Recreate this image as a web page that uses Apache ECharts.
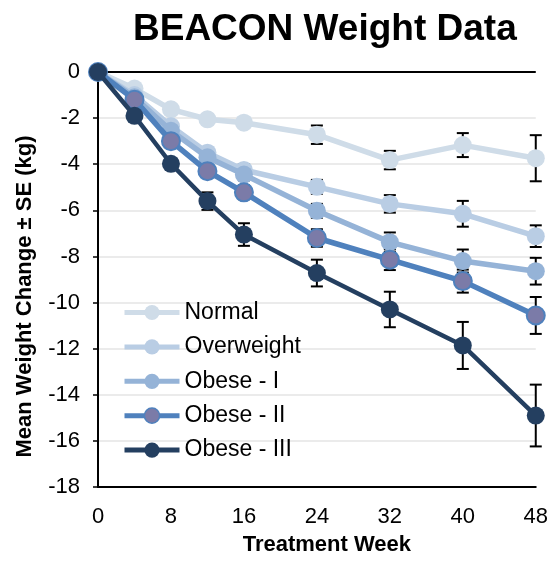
<!DOCTYPE html>
<html><head><meta charset="utf-8">
<script src="https://cdn.jsdelivr.net/npm/echarts@6/dist/echarts.min.js"></script>
<style>html,body{margin:0;padding:0;background:#fff}#c{width:551px;height:561px}</style>
</head><body><div id="c"></div>
<script>
var weeks = [0, 4, 8, 12, 16, 24, 32, 40, 48];
var xTicks = [0, 8, 16, 24, 32, 40, 48];
var yTicks = [0, -2, -4, -6, -8, -10, -12, -14, -16, -18];
var seriesNames = ['Normal', 'Overweight', 'Obese - I', 'Obese - II', 'Obese - III'];
var normal     = [0, -0.72, -1.62, -2.05, -2.20, -2.72, -3.82, -3.17, -3.74];
var overweight = [0, -1.00, -2.35, -3.50, -4.25, -4.98, -5.72, -6.15, -7.12];
var obese1     = [0, -1.10, -2.55, -3.70, -4.45, -6.02, -7.38, -8.20, -8.64];
var obese2     = [0, -1.20, -3.00, -4.30, -5.22, -7.20, -8.14, -9.07, -10.56];
var obese3     = [0, -1.90, -3.98, -5.60, -7.05, -8.72, -10.30, -11.86, -14.90];
var seNormal     = [0, 0.10, 0.15, 0.15, 0.20, 0.40, 0.40, 0.52, 1.00];
var seOverweight = [0, 0.10, 0.15, 0.20, 0.25, 0.30, 0.38, 0.56, 0.47];
var seObese1     = [0, 0.10, 0.15, 0.20, 0.25, 0.30, 0.42, 0.50, 0.58];
var seObese2     = [0, 0.10, 0.15, 0.20, 0.30, 0.38, 0.45, 0.50, 0.80];
var seObese3     = [0, 0.15, 0.20, 0.38, 0.49, 0.58, 0.77, 1.02, 1.34];

var FONT = '"Liberation Sans", Arial, sans-serif';
var values = [normal, overweight, obese1, obese2, obese3];
var errs = [seNormal, seOverweight, seObese1, seObese2, seObese3];
var lineColors = ['#cfdce8', '#b9cde4', '#95b3d7', '#4f81bd', '#243f60'];
var markerFill = ['#cfdce8', '#b9cde4', '#95b3d7', '#7b7ba8', '#243f60'];
var widths = [5.5, 5.5, 5.5, 5.5, 4.5];

var errData = [];
values.forEach(function (vals, s) {
  vals.forEach(function (v, i) {
    if (errs[s][i] > 0) errData.push([weeks[i], v - errs[s][i], v + errs[s][i]]);
  });
});

var series = [{
  type: 'custom',
  name: 'err',
  z: 1,
  silent: true,
  data: errData,
  encode: { x: 0, y: [1, 2] },
  renderItem: function (params, api) {
    var x = api.value(0);
    var lo = api.coord([x, api.value(1)]);
    var hi = api.coord([x, api.value(2)]);
    var hw = 6;
    var st = { stroke: '#000', lineWidth: 2 };
    return { type: 'group', children: [
      { type: 'line', shape: { x1: lo[0], y1: lo[1], x2: hi[0], y2: hi[1] }, style: st },
      { type: 'line', shape: { x1: lo[0] - hw, y1: lo[1], x2: lo[0] + hw, y2: lo[1] }, style: st },
      { type: 'line', shape: { x1: hi[0] - hw, y1: hi[1], x2: hi[0] + hw, y2: hi[1] }, style: st }
    ]};
  }
}];

values.forEach(function (vals, s) {
  var item = {
    type: 'line',
    name: seriesNames[s],
    z: 2 + s,
    data: vals.map(function (v, i) { return [weeks[i], v]; }),
    symbol: 'circle',
    symbolSize: 18,
    showAllSymbol: true,
    lineStyle: { color: lineColors[s], width: widths[s] },
    itemStyle: { color: markerFill[s], borderColor: lineColors[s], borderWidth: s === 3 ? 2 : 0 },
    emphasis: { disabled: true },
    animation: false
  };
  if (s === 0) {
    item.markLine = {
      silent: true, symbol: 'none', label: { show: false },
      lineStyle: { color: '#000', width: 2, type: 'solid' },
      data: [{ yAxis: 0 }]
    };
  }
  series.push(item);
});

var legendData = seriesNames.map(function (n, s) {
  return {
    name: n,
    lineStyle: { color: lineColors[s], width: 5 },
    itemStyle: { color: markerFill[s], borderColor: lineColors[s], borderWidth: s === 3 ? 1.5 : 0 }
  };
});

var chart = echarts.init(document.getElementById('c'), null, { renderer: 'canvas' });
chart.setOption({
  animation: false,
  backgroundColor: '#fff',
  title: {
    text: 'BEACON Weight Data',
    left: 128, top: 6,
    textStyle: { fontFamily: FONT, fontSize: 37, fontWeight: 'bold', color: '#000' }
  },
  legend: {
    data: legendData,
    orient: 'vertical',
    left: 117, top: 296,
    itemWidth: 55, itemHeight: 19, itemGap: 11.4,
    textStyle: { fontFamily: FONT, fontSize: 23, color: '#000', lineHeight: 23 },
    selectedMode: false
  },
  grid: { left: 98, right: 15, top: 72, bottom: 74, containLabel: false },
  xAxis: {
    type: 'value', min: xTicks[0], max: xTicks[xTicks.length - 1], interval: 8,
    name: 'Treatment Week', nameLocation: 'middle', nameGap: 47,
    nameTextStyle: { fontFamily: FONT, fontSize: 22, fontWeight: 'bold', color: '#000', padding: [0, 0, 0, 20] },
    axisLine: { show: true, onZero: false, lineStyle: { color: '#000', width: 2 } },
    axisTick: { show: false },
    axisLabel: { fontFamily: FONT, fontSize: 22, color: '#000', margin: 19 },
    splitLine: { show: false }
  },
  yAxis: {
    type: 'value', min: yTicks[yTicks.length - 1], max: yTicks[0], interval: 2,
    name: 'Mean Weight Change ± SE (kg)', nameLocation: 'middle', nameGap: 62,
    nameTextStyle: { fontFamily: FONT, fontSize: 22, fontWeight: 'bold', color: '#000', padding: [0, 34, 0, 0] },
    axisLine: { show: true, onZero: false, lineStyle: { color: '#000', width: 2 } },
    axisTick: { show: true, length: 5, lineStyle: { color: '#000', width: 1.5 } },
    axisLabel: { fontFamily: FONT, fontSize: 22, color: '#000', margin: 18 },
    splitLine: { show: true, lineStyle: { color: '#ebebeb', width: 2 } }
  },
  series: series
});
</script></body></html>
